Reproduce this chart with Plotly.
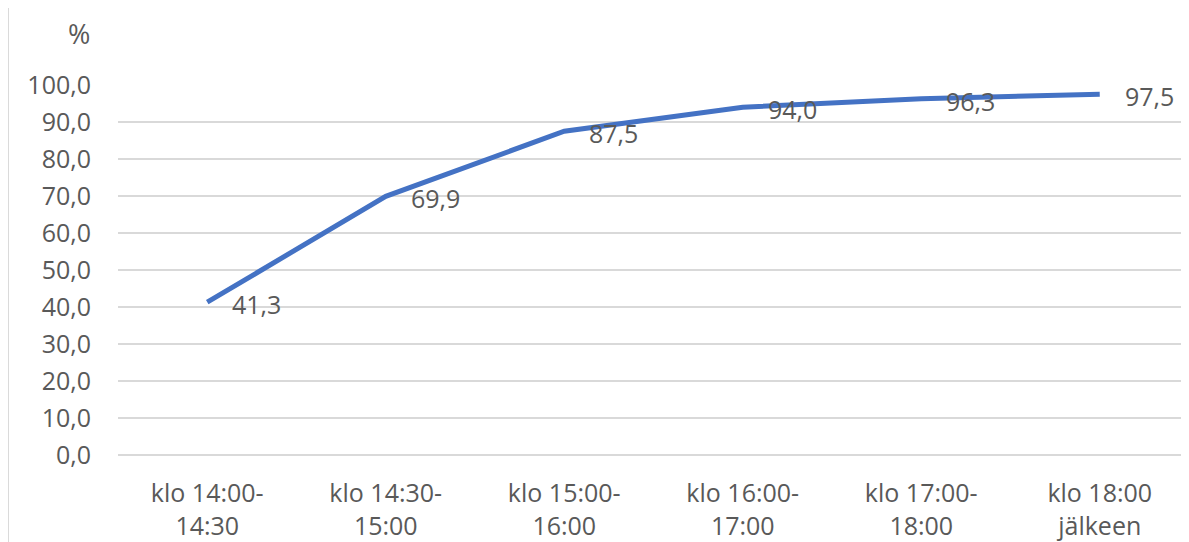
import plotly.graph_objects as go

categories = ["klo 14:00-<br>14:30", "klo 14:30-<br>15:00", "klo 15:00-<br>16:00",
              "klo 16:00-<br>17:00", "klo 17:00-<br>18:00", "klo 18:00<br>jälkeen"]
values = [41.3, 69.9, 87.5, 94.0, 96.3, 97.5]
y_ticks = [0, 10, 20, 30, 40, 50, 60, 70, 80, 90, 100]

FONT = "Open Sans"
TXT = "#595959"
FS = 25

fig = go.Figure()
fig.add_trace(go.Scatter(
    x=list(range(len(categories))), y=values, mode="lines",
    line=dict(color="#4472C4", width=5), hoverinfo="skip", showlegend=False,
))

for i, v in enumerate(values):
    fig.add_annotation(x=i, y=v, xref="x", yref="y", text=f"{v:.1f}".replace(".", ","),
                       showarrow=False, xanchor="left", yanchor="middle", xshift=23, yshift=-2,
                       font=dict(family=FONT, size=FS, color=TXT))

fig.add_annotation(x=-0.024, y=1.14, xref="paper", yref="paper", text="%", showarrow=False,
                   xanchor="right", yanchor="middle", font=dict(family=FONT, size=27, color=TXT))

fig.add_shape(type="line", xref="paper", yref="paper", x0=-0.1025, x1=-0.1025, y0=-0.24, y1=1.21,
              line=dict(color="#D9D9D9", width=1.5))

fig.update_layout(
    width=1181, height=534,
    margin=dict(l=110, r=0, t=77, b=87),
    paper_bgcolor="white", plot_bgcolor="white",
    separators=", ",
    font=dict(family=FONT, size=FS, color=TXT),
    xaxis=dict(
        tickmode="array", tickvals=list(range(len(categories))), ticktext=categories,
        range=[-0.5, 5.5], showgrid=False, zeroline=False, showline=False,
        ticks="outside", ticklen=16, tickcolor="rgba(0,0,0,0)",
        tickfont=dict(family=FONT, size=FS, color=TXT),
    ),
    yaxis=dict(
        tickmode="array", tickvals=y_ticks, tickformat=".1f", range=[0, 100],
        showgrid=True, gridcolor="#D9D9D9", gridwidth=1.5,
        zeroline=True, zerolinecolor="#D9D9D9", zerolinewidth=1.5, showline=False,
        ticks="outside", ticklen=21, tickcolor="rgba(0,0,0,0)",
        tickfont=dict(family=FONT, size=FS, color=TXT),
    ),
)

fig.write_html("out.html")
